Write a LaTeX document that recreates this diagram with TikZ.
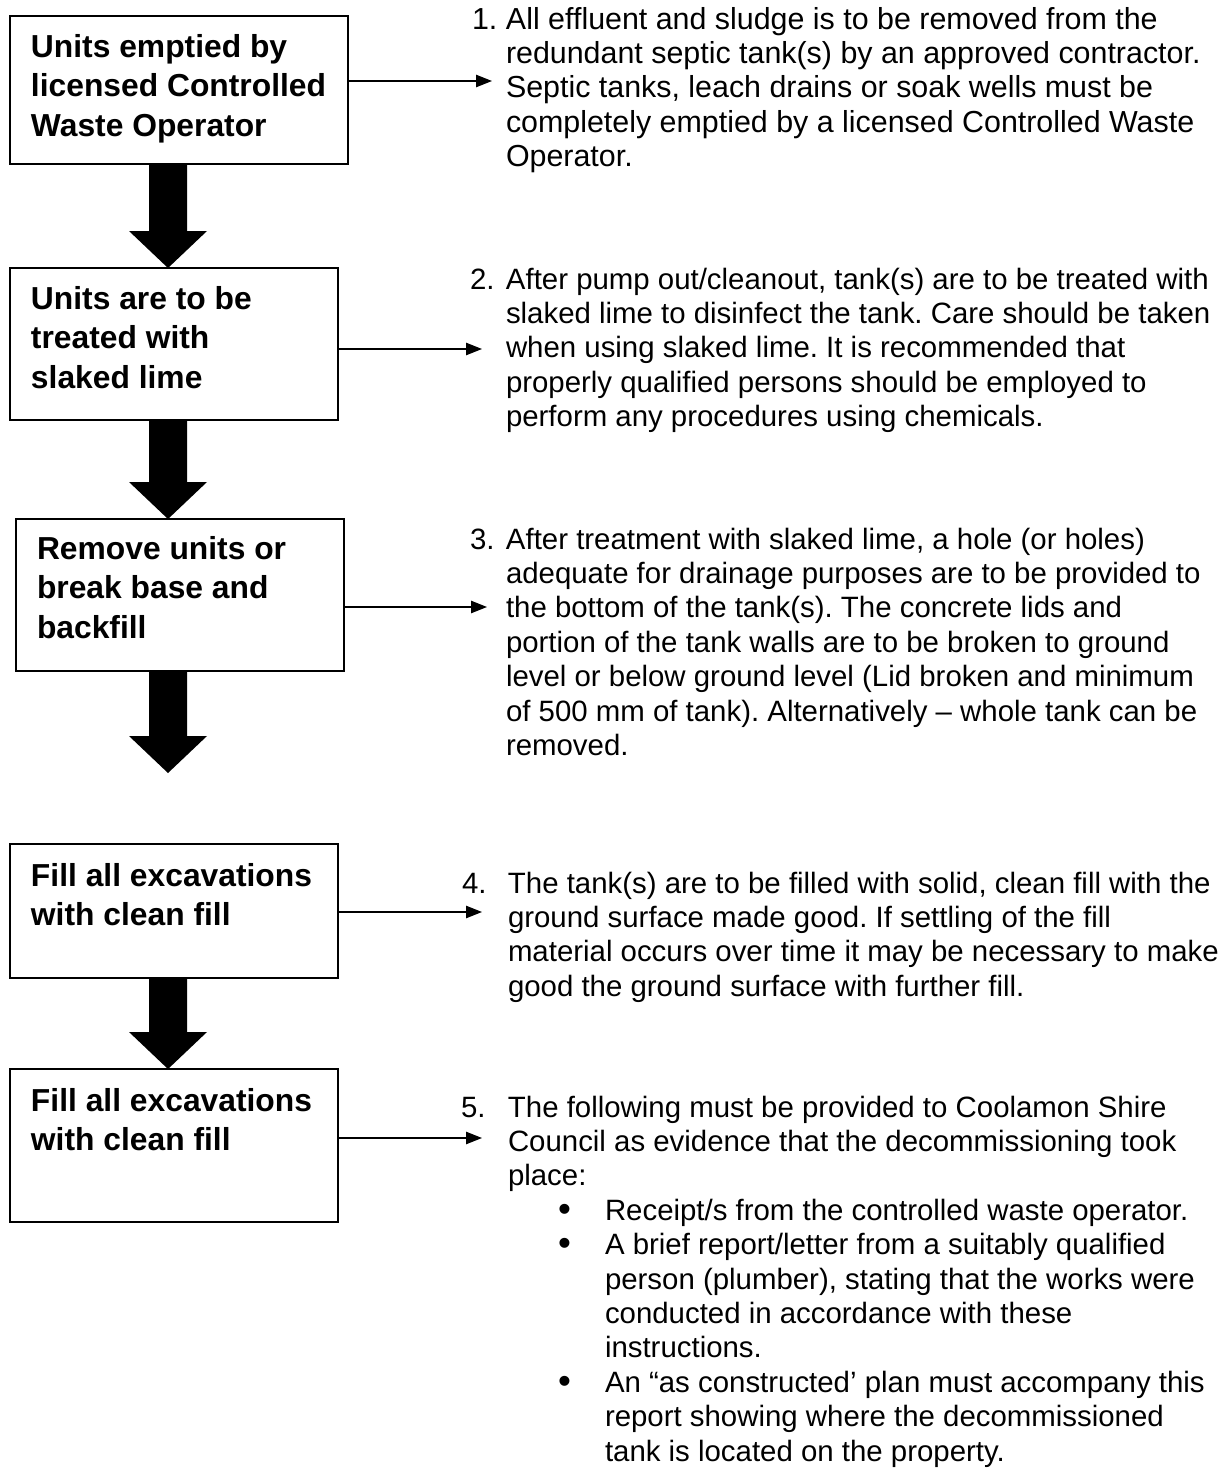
\documentclass[tikz,border=0pt]{standalone}
\usepackage{fontspec}
\setmainfont[Ligatures=NoCommon]{Liberation Sans}
\usetikzlibrary{calc,arrows.meta}
\frenchspacing
\newcommand\bodyfnt{\fontsize{14.7pt}{17.2pt}\selectfont\frenchspacing}
\newcommand\bodyfntA{\fontsize{15.2pt}{17.2pt}\selectfont\frenchspacing}
\newcommand\boxfnt{\fontsize{15.9pt}{19.75pt}\selectfont\bfseries}
\newcommand\bigarrow[2]{\fill[black] let \p1=#1, \p2=#2 in
  (\x1-9.5pt,\y1) -- (\x1+9.5pt,\y1) -- (\x1+9.5pt,\y2+18.5pt) -- (\x1+19.5pt,\y2+18.5pt)
  -- (\x1,\y2) -- (\x1-19.5pt,\y2+18.5pt) -- (\x1-9.5pt,\y2+18.5pt) -- cycle;}
\newcommand\numl[2]{\leavevmode\llap{\makebox[#1][l]{#2}}}
\newcommand\bul{\hspace*{25pt}\makebox[23.5pt][l]{\raisebox{-0.6pt}{\scalebox{1.25}{•}}}}
\newcommand\bulcont{\hspace*{48.5pt}}
\begin{document}
\begin{tikzpicture}[x=0.5pt,y=-0.5pt,
  flowbox/.style={draw=black,line width=1pt,fill=white,inner sep=0pt,outer sep=0pt},
  boxtxt/.style={anchor=base west,inner sep=0pt,outer sep=0pt},
  itemtxt/.style={anchor=base west,inner sep=0pt,outer sep=0pt},
  thin/.style={draw=black,line width=0.65pt,-{Triangle[length=8pt,width=6.2pt]}}]
\useasboundingbox (0,0) rectangle (1226,1474);
% boxes
\node[flowbox,minimum width=169pt,minimum height=74pt] (b1) at (179,90) {};
\node[flowbox,minimum width=164pt,minimum height=76pt] (b2) at (174,344) {};
\node[flowbox,minimum width=164pt,minimum height=76pt] (b3) at (180,595) {};
\node[flowbox,minimum width=164pt,minimum height=67pt] (b4) at (174,911) {};
\node[flowbox,minimum width=164pt,minimum height=76.5pt] (b5) at (174,1145.5) {};
% box texts
\node[boxtxt] (t1) at (31,57) {\parbox[t]{165pt}{\boxfnt Units emptied by\\licensed Controlled\\Waste Operator}};
\node[boxtxt] (t2) at (31,309) {\parbox[t]{160pt}{\boxfnt Units are to be\\treated with\\slaked lime}};
\node[boxtxt] (t3) at (37,559) {\parbox[t]{160pt}{\boxfnt Remove units or\\break base and\\backfill}};
\node[boxtxt] (t4) at (31,886) {\parbox[t]{160pt}{\boxfnt Fill all excavations\\with clean fill}};
\node[boxtxt] (t5) at (31,1111) {\parbox[t]{160pt}{\boxfnt Fill all excavations\\with clean fill}};
% thick arrows
\coordinate (ax) at (168,0);
\coordinate (e3) at (168,773);
\bigarrow{(ax |- b1.south)}{(ax |- b2.north)}
\bigarrow{(ax |- b2.south)}{(ax |- b3.north)}
\bigarrow{(ax |- b3.south)}{(e3)}
\bigarrow{(ax |- b4.south)}{(ax |- b5.north)}
% item texts
\node[itemtxt] (i1) at (506,29) {\parbox[t]{380pt}{\bodyfntA
\numl{17pt}{1.}All effluent and sludge is to be removed from the\\
redundant septic tank(s) by an approved contractor.\\
Septic tanks, leach drains or soak wells must be\\
completely emptied by a licensed Controlled Waste\\
Operator.}};
\node[itemtxt] (i2) at (506,289) {\parbox[t]{380pt}{\bodyfnt
\numl{18pt}{2.}After pump out/cleanout, tank(s) are to be treated with\\
slaked lime to disinfect the tank. Care should be taken\\
when using slaked lime. It is recommended that\\
properly qualified persons should be employed to\\
perform any procedures using chemicals.}};
\node[itemtxt] (i3) at (506,549) {\parbox[t]{380pt}{\bodyfnt
\numl{18pt}{3.}After treatment with slaked lime, a hole (or holes)\\
adequate for drainage purposes are to be provided to\\
the bottom of the tank(s). The concrete lids and\\
portion of the tank walls are to be broken to ground\\
level or below ground level (Lid broken and minimum\\
of 500 mm of tank). Alternatively – whole tank can be\\
removed.}};
\node[itemtxt] (i4) at (508,893) {\parbox[t]{380pt}{\bodyfnt
\numl{23pt}{4.}The tank(s) are to be filled with solid, clean fill with the\\
ground surface made good. If settling of the fill\\
material occurs over time it may be necessary to make\\
good the ground surface with further fill.}};
\node[itemtxt] (i5) at (508,1117) {\parbox[t]{380pt}{\bodyfnt
\numl{23.5pt}{5.}The following must be provided to Coolamon Shire\\
Council as evidence that the decommissioning took\\
place:\\
\bul Receipt/s from the controlled waste operator.\\
\bul A brief report/letter from a suitably qualified\\
\bulcont person (plumber), stating that the works were\\
\bulcont conducted in accordance with these\\
\bulcont instructions.\\
\bul An “as constructed’ plan must accompany this\\
\bulcont report showing where the decommissioned\\
\bulcont tank is located on the property.}};
% thin arrows
\coordinate (a1) at (492,81);
\coordinate (a2) at (482,349);
\coordinate (a3) at (487,607);
\coordinate (a4) at (482,912);
\coordinate (a5) at (482,1138);
\draw[thin] (b1.east |- a1) -- (a1);
\draw[thin] (b2.east |- a2) -- (a2);
\draw[thin] (b3.east |- a3) -- (a3);
\draw[thin] (b4.east |- a4) -- (a4);
\draw[thin] (b5.east |- a5) -- (a5);
\end{tikzpicture}
\end{document}
